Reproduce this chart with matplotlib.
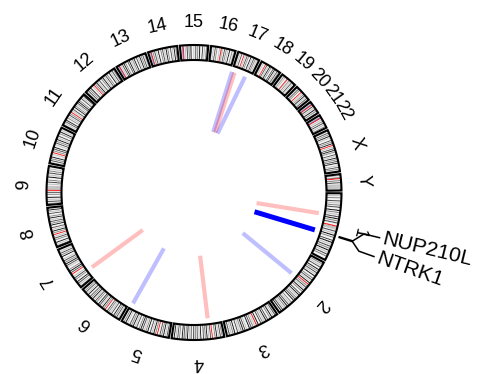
import numpy as np
import matplotlib
matplotlib.use("Agg")
import matplotlib.pyplot as plt
from matplotlib.collections import PolyCollection

plt.rcParams['font.family'] = ['Liberation Sans', 'DejaVu Sans']

# ---- genome layout (hg19, Mb) ----
chrom_names = ['1', '2', '3', '4', '5', '6', '7', '8', '9', '10', '11', '12',
               '13', '14', '15', '16', '17', '18', '19', '20', '21', '22', 'X', 'Y']
chrom_len_mb = [249.25, 243.20, 198.02, 191.15, 180.92, 171.12, 159.14, 146.36,
                141.21, 135.53, 135.01, 133.85, 115.17, 107.35, 102.53, 90.35,
                81.20, 78.08, 59.13, 63.03, 48.13, 51.30, 155.27, 59.37]

# G-band stains along each chromosome, equal-width bands:
# '.' gneg, '1' gpos25, '2' gpos50, '3' gpos75, '4' gpos100,
# 'c' acen, 'v' gvar, 's' stalk
band_stains = [
    "..1.2..3.1.2.3..4.2.1.3.4.2.3..c" + "vvv.3.1.4.2..3.4.1.3.2.4.1.3.2...",
    "..2.1.3..4.2.3.1.4..2.3.1.4.c" + ".2.3.1.4.2..3.4.1.2.3.4..2.1.3.4.2.1.3.4..",
    "..3.1.4.2..3.4.1.2.3..4.c" + ".1.2.3.4..1.3.4.2.1.3..4.2.1.3..",
    "..2.3.1.4.2..c" + ".3.1.4.2.3..4.1.3.2.4..3.1.4.2.3.4..2.3.1.4..",
    "..3.1.4.2.3..c" + ".2.4.1.3..4.2.1.3.4.2..3.1.4.2.3..1.4.2..",
    "..1.3.2.4..3.1.2.3..c" + ".2.4.1.3.4..2.3.1.4.2.3..4.1.3.2..",
    ".2.1.3.4..2.3.1..c" + ".3.4.2..1.3.4.2.3.1..4.2.3.1..",
    ".3.1.4..2.3.1.c" + ".2.4.1.3..4.2.3.1.4.2..3.1.4..",
    ".2.3.1.4..2.3.c" + "vvvv.1.3.2..4.1.3.2.1..",
    ".1.3.2.4..1.c" + ".2.3.4..1.3.2.4.1.3..2.4.1..",
    ".2.1.3.4..2.1.3.2.c" + ".1.3..4.2.1.3.4.2..3.1.4.",
    ".1.3.2.4..1.c" + ".2.4.1.3..2.4.1.3.2..4.1.3.2.",
    "s.sc" + ".1.3.4.2..3.4.1.2.4..3.1.4.2.3.1.",
    "s.sc" + ".2.3.1.4..2.3.1.4.2..3.1.4.2.",
    "s.sc" + ".1.3.2.4..1.3.2.4..3.1.2.",
    ".2.1.3.2..1.c" + "vv.3.2.1.4..2.1.",
    ".2.1.3..c" + ".1.3.2..4.1.3.2.1..",
    ".2.1..c" + ".3.1.4.2..3.4.1.3.2.",
    ".1.2.1..c" + "v.2.1.3.1..",
    ".1.3.2..c" + ".1.2.4.1.3..",
    "s.sc" + ".3.1.4.2..",
    "s.sc" + ".1.2.3.1.2.",
    ".1.3.2.4.1..3.2.4.c" + ".1.3.4.2..3.1.4.2.3.4..1.3.2..",
    ".1.2c" + ".2.3.vvvvvv",
]
stain_colors = {'.': '#f4f4f4', '1': '#bcbcbc', '2': '#7c7c7c', '3': '#3c3c3c',
                '4': '#000000', 'c': '#ff0000', 'v': '#c0c0c0', 's': '#6f87c8'}

# ---- fusion links: (chrom, Mb) at inner end -> (chrom, Mb) at outer end ----
link_in_chrom = ['17', '17', '17', '1', '1', '2', '4', '5', '7']
link_in_pos = [1.3, 18.9, 40.0, 86.0, 160.5, 106.5, 59.3, 171.0, 35.0]
link_out_chrom = ['17', '17', '17', '1', '1', '2', '4', '5', '7']
link_out_pos = [0.3, 11.5, 58.7, 84.0, 156.4, 104.6, 52.8, 175.7, 35.0]
link_kind = ['blue', 'red', 'blue', 'red', 'highlight', 'blue', 'red', 'blue', 'red']

# ---- labelled genes ----
gene_names = ['NUP210L', 'NTRK1']
gene_chrom = ['1', '1']
gene_pos = [154.0, 156.8]

# ---- drawing geometry (pixel units) ----
W, H = 484, 374
cx, cy = 194.0, 192.5
r_ring_in, r_ring_out = 132.5, 147.5
r_link_in, r_link_out = 63.5, 126.5
r_chr_label = 170.0
start_deg = -0.3
gap_deg = 1.06
total_mb = sum(chrom_len_mb)
deg_per_mb = (360.0 - gap_deg * len(chrom_names)) / total_mb
cum_start = np.concatenate([[0.0], np.cumsum(chrom_len_mb)[:-1]])


def genome_angle(chrom, pos):
    i = chrom_names.index(chrom)
    return start_deg - (cum_start[i] * deg_per_mb + i * gap_deg + pos * deg_per_mb)


def xy(r, ang_deg):
    a = np.deg2rad(ang_deg)
    return cx + r * np.cos(a), cy - r * np.sin(a)


def sector(a1, a2, r1, r2, n=None):
    if n is None:
        n = max(2, int(abs(a2 - a1) / 0.5) + 2)
    angs = np.linspace(a1, a2, n)
    ox, oy = xy(r2, angs)
    ix, iy = xy(r1, angs[::-1])
    return np.column_stack([np.concatenate([ox, ix]), np.concatenate([oy, iy])])


fig = plt.figure(figsize=(W / 100, H / 100), dpi=100)
ax = fig.add_axes([0, 0, 1, 1])
ax.set_xlim(0, W)
ax.set_ylim(H, 0)
ax.set_aspect('equal')
ax.axis('off')

# ideogram bands
polys, cols = [], []
for name, L, stains in zip(chrom_names, chrom_len_mb, band_stains):
    n = len(stains)
    for k, st in enumerate(stains):
        a1 = genome_angle(name, k * L / n)
        a2 = genome_angle(name, (k + 1) * L / n)
        polys.append(sector(a1, a2, r_ring_in, r_ring_out))
        cols.append(stain_colors[st])
ax.add_collection(PolyCollection(polys, facecolors=cols, edgecolors=cols,
                                 linewidths=0.2, zorder=1))

# chromosome outlines and names
for name, L in zip(chrom_names, chrom_len_mb):
    a1 = genome_angle(name, 0)
    a2 = genome_angle(name, L)
    outline = sector(a1, a2, r_ring_in, r_ring_out, n=200)
    ax.add_patch(plt.Polygon(outline, closed=True, fill=False, edgecolor='black',
                             linewidth=1.5, joinstyle='miter', zorder=2))
    am = 0.5 * (a1 + a2)
    tx, ty = xy(r_chr_label, am)
    ax.text(tx, ty, name, rotation=am - 90, ha='center', va='center',
            rotation_mode='anchor', fontsize=13, zorder=3)

# fusion links
link_style = {'red': ((1.0, 0.0, 0.0, 0.25), 3.0),
              'blue': ((0.0, 0.0, 1.0, 0.25), 3.0),
              'highlight': ((0.0, 0.0, 1.0, 1.0), 3.6)}
for ci, pi, co, po, kind in zip(link_in_chrom, link_in_pos, link_out_chrom,
                                link_out_pos, link_kind):
    x1, y1 = xy(r_link_in, genome_angle(ci, pi))
    x2, y2 = xy(r_link_out, genome_angle(co, po))
    col, lw = link_style[kind]
    ax.plot([x1, x2], [y1, y2], color=col, lw=lw, solid_capstyle='butt', zorder=4)

# gene labels with connectors
gene_ang = [genome_angle(c, p) for c, p in zip(gene_chrom, gene_pos)]
mean_ang = float(np.mean(gene_ang))
label_step = 5.9
label_ang = [mean_ang + 0.45 + label_step / 2, mean_ang + 0.45 - label_step / 2]
r_c1, r_c2, r_c3, r_c4, r_txt = 152.0, 166.0, 175.0, 191.0, 194.0
for g, ga, la in zip(gene_names, gene_ang, label_ang):
    p1 = xy(r_c1, ga)
    p2 = xy(r_c2, ga)
    p3 = xy(r_c3, la)
    p4 = xy(r_c4, la)
    ax.plot([p1[0], p2[0], p3[0], p4[0]], [p1[1], p2[1], p3[1], p4[1]],
            color='black', lw=1.1, solid_joinstyle='miter', zorder=3)
    tx, ty = xy(r_txt, la)
    ax.text(tx, ty, g, rotation=la, ha='left', va='center',
            rotation_mode='anchor', fontsize=15.2, zorder=3)

fig.savefig('out.png', dpi=100)
